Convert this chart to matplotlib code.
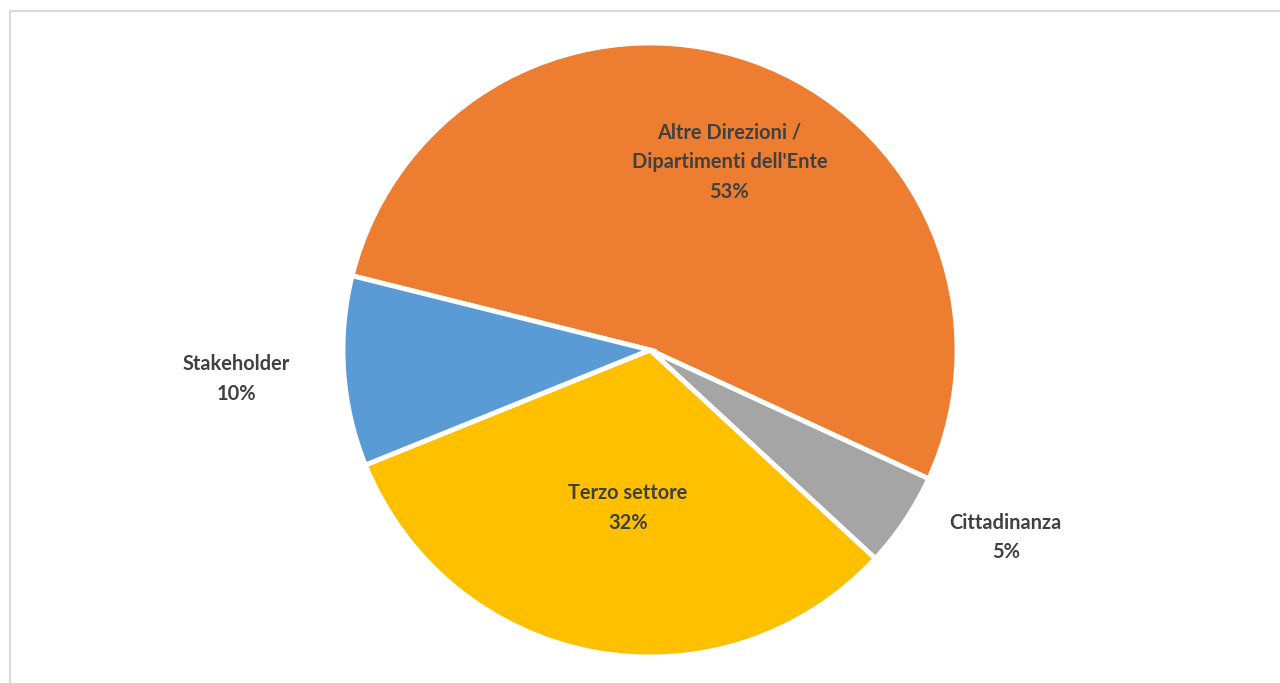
import numpy as np
import matplotlib.pyplot as plt
from matplotlib.lines import Line2D

# Dati
etichette = ["Altre Direzioni /\nDipartimenti dell'Ente", "Cittadinanza", "Terzo settore", "Stakeholder"]
valori = [53, 5, 32, 10]
colori = ["#ED7D31", "#A5A5A5", "#FFC000", "#5B9BD5"]
# distanza etichetta dal centro (in raggi) e piccola rotazione dell'angolo
distanze = [0.665, 1.31, 0.52, 1.35]
scarti_angolo = [-3.5, 6, 2.5, 0]

W, H = 1280, 683
fig = plt.figure(figsize=(W / 100, H / 100), dpi=100)
ax = fig.add_axes([0, 0, 1, 1])

# cornice grigia (solo lato sinistro e superiore visibili)
fig.add_artist(Line2D([9.5 / W, 9.5 / W], [0, 1 - 10.5 / H], color="#D9D9D9", lw=1.5))
fig.add_artist(Line2D([9.5 / W, 1], [1 - 10.5 / H, 1 - 10.5 / H], color="#D9D9D9", lw=1.5))

wedges, _ = ax.pie(valori, colors=colori, startangle=166, counterclock=False,
                   wedgeprops=dict(edgecolor="white", linewidth=3.5))

tot = sum(valori)
for w, lab, v, d, s in zip(wedges, etichette, valori, distanze, scarti_angolo):
    ang = np.deg2rad((w.theta1 + w.theta2) / 2 + s)
    x, y = d * np.cos(ang), d * np.sin(ang)
    ax.text(x, y, f"{lab}\n{v / tot:.0%}", ha="center", va="center",
            fontsize=14.4, fontweight="bold", color="#404040",
            family=["Lato", "DejaVu Sans"], linespacing=1.6)

# scala: raggio ~307 px, centro a (650, 350) px
r = 307
ax.set_xlim(-650 / r, (W - 650) / r)
ax.set_ylim(-(H - 350) / r, 350 / r)
ax.set_aspect("auto")
ax.axis("off")

fig.savefig("out.png", dpi=100)
